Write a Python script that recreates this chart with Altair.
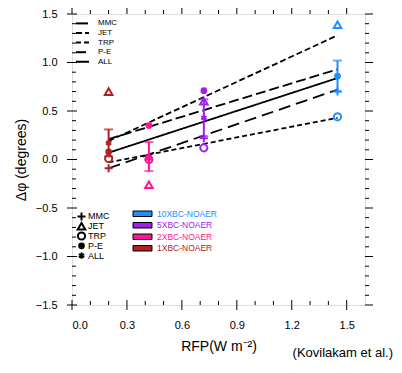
import altair as alt
import pandas as pd

# ---------------- data ----------------
experiments = ["1XBC-NOAER", "2XBC-NOAER", "5XBC-NOAER", "10XBC-NOAER"]
rfp = [0.20, 0.42, 0.72, 1.45]
mmc = [-0.09, 0.00, 0.22, 0.70]
jet = [0.70, -0.26, 0.60, 1.39]
trp = [0.01, 0.00, 0.12, 0.44]
pe = [0.08, 0.35, 0.71, 0.86]
all_mean = [0.17, 0.03, 0.43, 0.86]
all_lo = [0.03, -0.12, 0.24, 0.70]
all_hi = [0.31, 0.18, 0.62, 1.02]

# fitted lines (end points)
fit_x = [0.20, 1.45]
fit_mmc = [-0.09, 0.72]
fit_jet = [0.19, 1.28]
fit_trp = [-0.03, 0.43]
fit_pe = [0.21, 0.93]
fit_all = [0.07, 0.84]

diag_names = ["MMC", "JET", "TRP", "P-E", "ALL"]
legend_exps = ["10XBC-NOAER", "5XBC-NOAER", "2XBC-NOAER", "1XBC-NOAER"]
exp_colors = ["#1e90ff", "#a020f0", "#ff1493", "#b22222"]

x_major = [0.0, 0.3, 0.6, 0.9, 1.2, 1.5]
x_minor = [0.1, 0.2, 0.4, 0.5, 0.7, 0.8, 1.0, 1.1, 1.3, 1.4]
y_major = [-1.5, -1.0, -0.5, 0.0, 0.5, 1.0, 1.5]
y_minor = [-1.4, -1.3, -1.2, -1.1, -0.9, -0.8, -0.7, -0.6, -0.4, -0.3, -0.2, -0.1,
           0.1, 0.2, 0.3, 0.4, 0.6, 0.7, 0.8, 0.9, 1.1, 1.2, 1.3, 1.4]

# ---------------- tables ----------------
series = {"MMC": mmc, "JET": jet, "TRP": trp, "P-E": pe, "ALL": all_mean}
rows = []
for d in diag_names:
    for e, x, v in zip(experiments, rfp, series[d]):
        rows.append({"exp": e, "rfp": x, "diag": d, "val": v})
pts = pd.DataFrame(rows)
open_pts = pts[pts["diag"] != "P-E"]
fill_pts = pts[pts["diag"] == "P-E"]

fits = {"MMC": fit_mmc, "JET": fit_jet, "TRP": fit_trp, "P-E": fit_pe, "ALL": fit_all}
lrows = []
for d in diag_names:
    for x, v in zip(fit_x, fits[d]):
        lrows.append({"diag": d, "x": x, "y": v})
lines_df = pd.DataFrame(lrows)

err_df = pd.DataFrame({"exp": experiments, "rfp": rfp, "lo": all_lo, "hi": all_hi})
diag_leg = pd.DataFrame({"diag": diag_names, "i": list(range(len(diag_names)))})
exp_leg = pd.DataFrame({"exp": legend_exps, "i": list(range(len(legend_exps)))})

W, H = 293, 291
FONT = "Liberation Sans"

xs = alt.Scale(domain=[0, 1.6], nice=False, zero=False)
ys = alt.Scale(domain=[-1.5, 1.5], nice=False, zero=False)
cscale = alt.Scale(domain=legend_exps, range=exp_colors)

plus_path = "M-1,0H1M0,-1V1"
star_path = "M0,-1V1M-0.87,-0.5L0.87,0.5M-0.87,0.5L0.87,-0.5"
shape_scale = alt.Scale(domain=diag_names,
                        range=[plus_path, "triangle-up", "circle", "circle", star_path])
size_scale = alt.Scale(domain=diag_names, range=[64, 38, 36, 45, 64])
dash_scale = alt.Scale(domain=diag_names,
                       range=[[12, 6], [6, 3], [5, 3], [10, 4], [1, 0]])

xaxis = alt.Axis(values=x_major, format=".1f", ticks=False, domain=False, grid=False,
                 labelFont=FONT, labelFontSize=11, labelPadding=14,
                 title="RFP(W m\u207b\u00b2)", titleFont=FONT, titleFontSize=14,
                 titleFontWeight="normal", titlePadding=9)
yaxis = alt.Axis(values=y_major, format=".1f", ticks=False, domain=False, grid=False,
                 labelFont=FONT, labelFontSize=11, labelPadding=15,
                 title="\u0394\u03c6 (degrees)", titleFont=FONT, titleFontSize=14,
                 titleFontWeight="normal", titlePadding=7)

lines = alt.Chart(lines_df).mark_line(color="black", strokeWidth=1.8).encode(
    x=alt.X("x:Q", scale=xs, axis=xaxis),
    y=alt.Y("y:Q", scale=ys, axis=yaxis),
    strokeDash=alt.StrokeDash("diag:N", scale=dash_scale, legend=None),
)

col = alt.Color("exp:N", scale=cscale, legend=None)
shp = alt.Shape("diag:N", scale=shape_scale, legend=None)
siz = alt.Size("diag:N", scale=size_scale, legend=None)

err_rule = alt.Chart(err_df).mark_rule(strokeWidth=2).encode(
    x=alt.X("rfp:Q", scale=xs), y=alt.Y("lo:Q", scale=ys), y2="hi:Q", color=col)
err_lo = alt.Chart(err_df).mark_tick(orient="horizontal", size=9, thickness=2).encode(
    x=alt.X("rfp:Q", scale=xs), y=alt.Y("lo:Q", scale=ys), color=col)
err_hi = alt.Chart(err_df).mark_tick(orient="horizontal", size=9, thickness=2).encode(
    x=alt.X("rfp:Q", scale=xs), y=alt.Y("hi:Q", scale=ys), color=col)

open_layer = alt.Chart(open_pts).mark_point(filled=False, strokeWidth=2, opacity=1).encode(
    x=alt.X("rfp:Q", scale=xs), y=alt.Y("val:Q", scale=ys),
    shape=shp, size=siz, color=col)
fill_layer = alt.Chart(fill_pts).mark_point(filled=True, opacity=1).encode(
    x=alt.X("rfp:Q", scale=xs), y=alt.Y("val:Q", scale=ys),
    shape=shp, size=siz, color=col)

# ---------------- manual legends (pixel layout) ----------------
PY = alt.Y("py:Q", scale=None, axis=None)

dash_leg_lines = alt.Chart(diag_leg).transform_calculate(py="9.4 + datum.i * 9.6").mark_rule(
    color="black", strokeWidth=2).encode(
    x=alt.value(4), x2=alt.value(17), y=PY,
    strokeDash=alt.StrokeDash("diag:N", scale=dash_scale, legend=None))
dash_leg_text = alt.Chart(diag_leg).transform_calculate(py="9.4 + datum.i * 9.6").mark_text(
    font=FONT, fontSize=8, align="left", baseline="middle", color="black").encode(
    x=alt.value(26), y=PY, text="diag:N")

shape_leg_open = alt.Chart(diag_leg).transform_calculate(py="202.4 + datum.i * 9.8").transform_filter(
    "datum.diag !== 'P-E'").mark_point(filled=False, strokeWidth=2, color="black", opacity=1).encode(
    x=alt.value(9.5), y=PY, shape=shp, size=siz)
shape_leg_fill = alt.Chart(diag_leg).transform_calculate(py="202.4 + datum.i * 9.8").transform_filter(
    "datum.diag === 'P-E'").mark_point(filled=True, color="black", opacity=1).encode(
    x=alt.value(9.5), y=PY, shape=shp, size=siz)
shape_leg_text = alt.Chart(diag_leg).transform_calculate(py="202.4 + datum.i * 9.8").mark_text(
    font=FONT, fontSize=9, align="left", baseline="middle", color="black").encode(
    x=alt.value(16), y=PY, text="diag:N")

exp_leg_rect = alt.Chart(exp_leg).transform_calculate(
    py="197 + datum.i * 11.5", py2="202.5 + datum.i * 11.5").mark_rect(
    stroke="black", strokeWidth=1, opacity=1).encode(
    x=alt.value(61), x2=alt.value(80), y=PY, y2="py2:Q", color=col)
exp_leg_text = alt.Chart(exp_leg).transform_calculate(py="199.8 + datum.i * 11.5").mark_text(
    font=FONT, fontSize=8.5, align="left", baseline="middle").encode(
    x=alt.value(85), y=PY, text="exp:N", color=col)

# ---------------- frame ticks ----------------
def ticks_y(vals, x1, x2):
    return alt.Chart(pd.DataFrame({"v": vals})).mark_rule(color="black", strokeWidth=1).encode(
        y=alt.Y("v:Q", scale=ys), x=alt.value(x1), x2=alt.value(x2))

def ticks_x(vals, y1, y2):
    return alt.Chart(pd.DataFrame({"v": vals})).mark_rule(color="black", strokeWidth=1).encode(
        x=alt.X("v:Q", scale=xs), y=alt.value(y1), y2=alt.value(y2))

tick_layers = [
    ticks_y(y_major, -5, 5), ticks_y(y_minor, 0, 4),
    ticks_y(y_major, W, W + 8), ticks_y(y_minor, W, W + 4),
    ticks_x(x_major, H - 5, H + 5), ticks_x(x_minor, H - 4, H),
    ticks_x(x_major, -8, 0), ticks_x(x_minor, -4, 0),
]

note = alt.Chart(pd.DataFrame({"t": ["(Kovilakam et al.)"]})).mark_text(
    font=FONT, fontSize=13, align="right", baseline="bottom", color="black"
).encode(text="t:N", x=alt.value(W + 28), y=alt.value(H + 55))

chart = alt.layer(
    lines, err_rule, err_lo, err_hi, open_layer, fill_layer,
    dash_leg_lines, dash_leg_text, shape_leg_open, shape_leg_fill, shape_leg_text,
    exp_leg_rect, exp_leg_text, *tick_layers, note
).properties(
    width=W, height=H,
    autosize=alt.AutoSizeParams(type="none"),
    padding={"left": 64, "top": 6, "right": 29, "bottom": 55},
).configure_view(stroke="black", strokeWidth=1.2).configure(background="white")

chart.save("out.html", embed_options={"renderer": "svg", "actions": False})
